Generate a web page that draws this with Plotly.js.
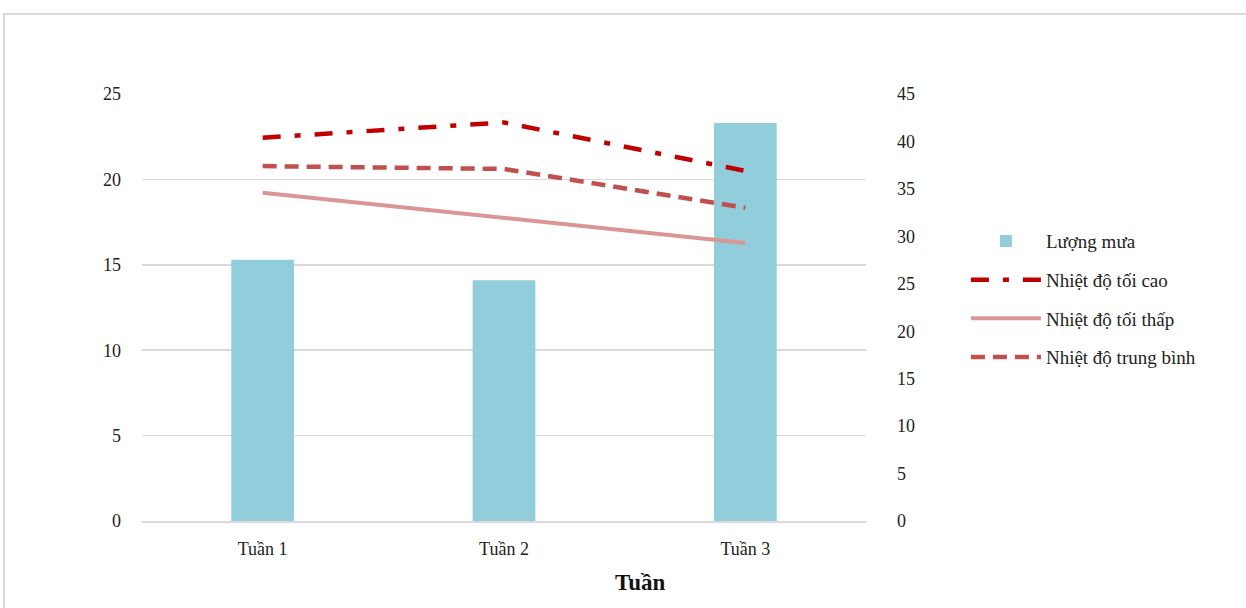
<!DOCTYPE html>
<html>
<head>
<meta charset="utf-8">
<script src="https://cdn.plot.ly/plotly-3.0.1.min.js"></script>
<style>
html,body{margin:0;padding:0;background:#fff;overflow:hidden;}
#chart{position:absolute;left:0;top:0;width:1246px;height:608px;}
#frame{position:absolute;left:3px;top:13px;width:1400px;height:800px;border:2px solid #d9d9d9;pointer-events:none;}
</style>
</head>
<body>
<div id="chart"></div>
<div id="frame"></div>
<script>
const weeks = ["Tuần 1", "Tuần 2", "Tuần 3"];
const rainfall = [15.3, 14.1, 23.3];
const tempMax = [40.4, 42.0, 36.9];
const tempMin = [34.6, 31.9, 29.3];
const tempAvg = [37.4, 37.1, 33.0];
const leftTicks = [0, 5, 10, 15, 20, 25];
const rightTicks = [0, 5, 10, 15, 20, 25, 30, 35, 40, 45];

const font = "Liberation Serif, Times New Roman, serif";

const traces = [
  {type: "bar", x: weeks, y: rainfall, name: "Lượng mưa",
   marker: {color: "#92CDDC"}, yaxis: "y", legendgroup: "a"},
  {type: "scatter", mode: "lines", x: weeks, y: tempMax, name: "Nhiệt độ tối cao",
   line: {color: "#C00000", width: 4.5, dash: "18px,14px,6px,14px"}, yaxis: "y2", legendgroup: "b"},
  {type: "scatter", mode: "lines", x: weeks, y: tempMin, name: "Nhiệt độ tối thấp",
   line: {color: "#DA9694", width: 4}, yaxis: "y2", legendgroup: "c"},
  {type: "scatter", mode: "lines", x: weeks, y: tempAvg, name: "Nhiệt độ trung bình",
   line: {color: "#C0504D", width: 4.5, dash: "14px,8px"}, yaxis: "y2", legendgroup: "d"}
];

const layout = {
  width: 1246, height: 608,
  margin: {l: 142, r: 380, t: 94, b: 87},
  paper_bgcolor: "#fff", plot_bgcolor: "#fff",
  font: {family: font, size: 18, color: "#222"},
  bargap: 0.74,
  showlegend: true,
  legend: {x: 1.138, xanchor: "left", y: 0.70, yanchor: "top",
           font: {family: font, size: 19, color: "#222"},
           itemwidth: 70, tracegroupgap: 11, traceorder: "grouped"},
  xaxis: {showgrid: false, showline: true, linecolor: "#d9d9d9", linewidth: 2,
          ticks: "", ticklabelstandoff: 10, tickfont: {family: font, size: 18, color: "#222"}},
  yaxis: {range: [0, 25], tickvals: leftTicks, showgrid: true, gridcolor: "#d9d9d9", gridwidth: 1.5,
          zeroline: false, showline: false, ticks: "", ticklabelstandoff: 20,
          tickfont: {family: font, size: 18, color: "#222"}},
  yaxis2: {range: [0, 45], tickvals: rightTicks, overlaying: "y", side: "right",
           showgrid: false, zeroline: false, showline: false, ticks: "", ticklabelstandoff: 30,
           tickfont: {family: font, size: 18, color: "#222"}},
  annotations: [{text: "<b>Tuần</b>", xref: "paper", yref: "paper",
                 x: (640 - 142) / 724, y: -0.143, xanchor: "center", yanchor: "middle",
                 showarrow: false, font: {family: font, size: 23, color: "#111"}}]
};

Plotly.newPlot("chart", traces, layout, {displayModeBar: false, staticPlot: true});
</script>
</body>
</html>
